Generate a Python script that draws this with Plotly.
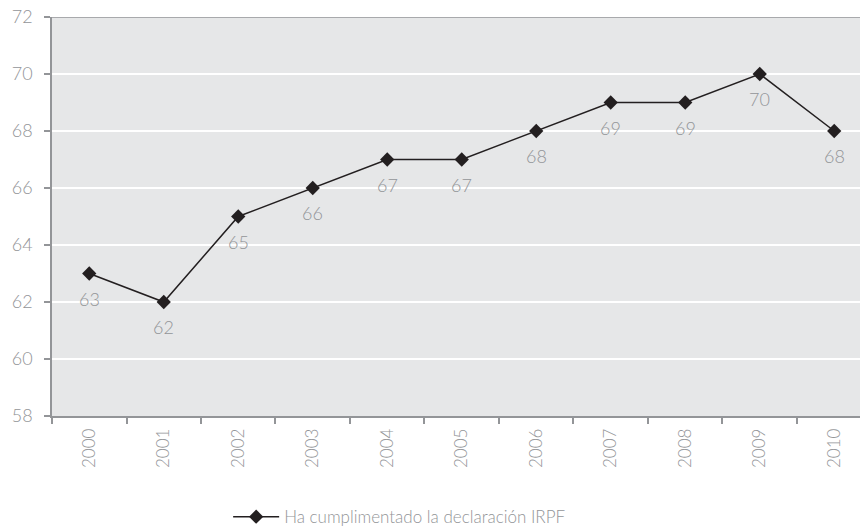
import plotly.graph_objects as go

years = ["2000", "2001", "2002", "2003", "2004", "2005", "2006", "2007", "2008", "2009", "2010"]
values = [63, 62, 65, 66, 67, 67, 68, 69, 69, 70, 68]
y_ticks = [58, 60, 62, 64, 66, 68, 70, 72]
series_name = "Ha cumplimentado la declaración IRPF"

grey = "#939598"
font_family = "Lato"
fw = 300

fig = go.Figure()
fig.add_trace(go.Scatter(
    x=years, y=values, mode="lines+markers",
    name=series_name,
    line=dict(color="#231f20", width=1.5),
    marker=dict(symbol="diamond", size=11, color="#231f20"),
    cliponaxis=False,
))

for i, v in enumerate(values):
    fig.add_annotation(x=i, y=v, xref="x", yref="y", text=str(v), showarrow=False, yshift=-25,
                       font=dict(color=grey, size=18, family=font_family, weight=fw))

fig.update_layout(
    width=860, height=532,
    margin=dict(l=52, r=0, t=17, b=116),
    paper_bgcolor="white",
    plot_bgcolor="#e6e7e8",
    font=dict(family=font_family, color=grey, size=17, weight=fw),
    showlegend=True,
    legend=dict(
        orientation="h", x=0.218, xanchor="left",
        yref="container", y=0.028, yanchor="middle",
        itemwidth=46,
        font=dict(size=17, color=grey, family=font_family, weight=fw),
        bgcolor="rgba(0,0,0,0)",
    ),
    xaxis=dict(
        type="category",
        range=[-0.5, 10.346],
        tickangle=-90,
        tickson="boundaries",
        ticks="outside", ticklen=6, tickcolor=grey, tickwidth=1.5,
        showline=True, linecolor=grey, linewidth=1.5,
        showgrid=False,
        ticklabelstandoff=4,
        tickfont=dict(size=17, color=grey),
    ),
    yaxis=dict(
        range=[58, 72],
        tickvals=y_ticks,
        ticks="outside", ticklen=6, tickcolor=grey, tickwidth=1.5,
        showline=True, linecolor=grey, linewidth=1.5, mirror=False,
        showgrid=True, gridcolor="white", gridwidth=1.5,
        zeroline=False,
        ticklabelstandoff=8,
        tickfont=dict(size=18, color=grey),
    ),
)

fig.add_shape(type="line", xref="paper", yref="y", x0=0, x1=1, y0=72, y1=72,
              line=dict(color=grey, width=1.5))

fig.write_html("out.html")
